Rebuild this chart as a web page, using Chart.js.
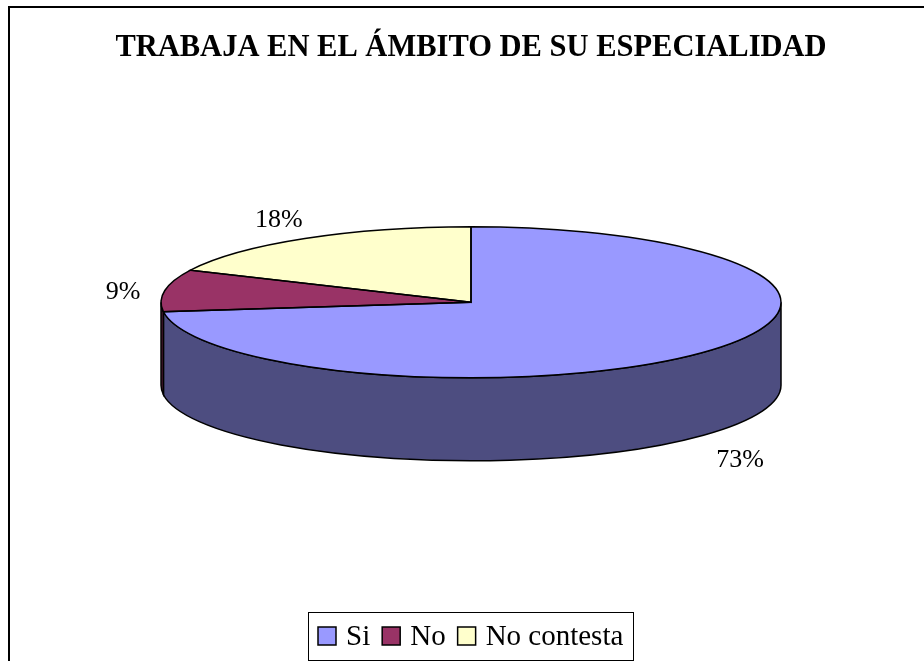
<!DOCTYPE html>
<html>
<head>
<meta charset="utf-8">
<title>Trabaja en el ámbito de su especialidad</title>
<script src="https://cdn.jsdelivr.net/npm/chart.js@4.4.0/dist/chart.umd.min.js"></script>
<style>
    html, body { margin: 0; padding: 0; background: #fff; }
    #wrap { width: 924px; height: 661px; }
</style>
</head>
<body>
<div id="wrap"><canvas id="chart" width="924" height="661"></canvas></div>
<script>
// Data
const categories = ['Si', 'No', 'No contesta'];
const values = [73, 9, 18];
const percentLabels = ['73%', '9%', '18%'];
const topColors = ['#9999FF', '#993366', '#FFFFCC'];
const sideColors = ['#4D4D80', '#4D1A33', '#808066'];

// 3D look: ellipse radii and wall height
const RX = 310, RY = 75.5, DEPTH = 83;
const LABEL_GAP_X = 25, LABEL_GAP_Y = 17, LABEL_SHIFT_Y = 6;

function frontParts(s, e) {
    // pieces of [s, e] that face the viewer (screen angle 0..PI)
    const parts = [];
    for (let k = -1; k <= 1; k++) {
        const lo = Math.max(s, 2 * Math.PI * k);
        const hi = Math.min(e, 2 * Math.PI * k + Math.PI);
        if (hi > lo) parts.push([lo, hi]);
    }
    return parts;
}

const pie3d = {
    id: 'pie3d',
    beforeDatasetsDraw(chart) {
        const ctx = chart.ctx;
        const arcs = chart.getDatasetMeta(0).data;
        const p0 = arcs[0].getProps(['x', 'y', 'outerRadius']);
        const cx = p0.x, cy = p0.y, R = p0.outerRadius;

        // side walls
        ctx.save();
        ctx.lineWidth = 1.5;
        ctx.strokeStyle = '#000';
        arcs.forEach((arc, i) => {
            const p = arc.getProps(['startAngle', 'endAngle']);
            frontParts(p.startAngle, p.endAngle).forEach(([a0, a1]) => {
                ctx.beginPath();
                ctx.ellipse(cx, cy, RX, RY, 0, a0, a1, false);
                ctx.ellipse(cx, cy + DEPTH, RX, RY, 0, a1, a0, true);
                ctx.closePath();
                ctx.fillStyle = sideColors[i];
                ctx.fill();
                ctx.stroke();
            });
        });
        ctx.restore();

        // squash the library's circle into the top ellipse
        ctx.save();
        ctx.translate(cx, cy);
        ctx.scale(RX / R, RY / R);
        ctx.translate(-cx, -cy);
    },
    afterDatasetsDraw(chart) {
        const ctx = chart.ctx;
        ctx.restore();
        const arcs = chart.getDatasetMeta(0).data;

        ctx.save();
        ctx.lineWidth = 1.5;
        ctx.strokeStyle = '#000';
        arcs.forEach(arc => {
            const p = arc.getProps(['x', 'y', 'startAngle', 'endAngle']);
            ctx.beginPath();
            ctx.moveTo(p.x, p.y);
            ctx.ellipse(p.x, p.y, RX, RY, 0, p.startAngle, p.endAngle, false);
            ctx.closePath();
            ctx.stroke();
        });

        // percent labels outside the slices
        ctx.font = '26px "Liberation Serif", "Times New Roman", serif';
        ctx.fillStyle = '#000';
        ctx.textAlign = 'center';
        ctx.textBaseline = 'middle';
        arcs.forEach((arc, i) => {
            const p = arc.getProps(['x', 'y', 'startAngle', 'endAngle']);
            const mid = (p.startAngle + p.endAngle) / 2;
            const c = Math.cos(mid), s = Math.sin(mid);
            const w = ctx.measureText(percentLabels[i]).width;
            const h = 24;
            const x = p.x + c * (RX + LABEL_GAP_X) + c * w / 2;
            const y = p.y + s * (RY + LABEL_GAP_Y) + s * h / 2 + (s > 0 ? DEPTH : 0) + LABEL_SHIFT_Y;
            ctx.fillText(percentLabels[i], x, y);
        });
        ctx.restore();
    }
};

const frameAndLegend = {
    id: 'frameAndLegend',
    beforeDraw(chart) {
        const ctx = chart.ctx;
        ctx.save();
        ctx.fillStyle = '#fff';
        ctx.fillRect(0, 0, chart.width, chart.height);
        ctx.strokeStyle = '#000';
        ctx.lineWidth = 2;
        ctx.beginPath();
        ctx.moveTo(9, chart.height);
        ctx.lineTo(9, 7);
        ctx.lineTo(chart.width, 7);
        ctx.stroke();
        ctx.restore();
    },
    afterDraw(chart) {
        const ctx = chart.ctx;
        ctx.save();
        ctx.font = '29px "Liberation Serif", "Times New Roman", serif';
        const marker = 18, gapText = 10, gapItem = 12, pad = 10;
        const widths = categories.map(c => ctx.measureText(c).width);
        let total = pad * 2 + gapItem * (categories.length - 1);
        widths.forEach(w => { total += marker + gapText + w; });
        const mid = (chart.chartArea.left + chart.chartArea.right) / 2;
        const top = chart.height - 49, h = 48;
        let x = Math.round(mid - total / 2);

        ctx.strokeStyle = '#000';
        ctx.lineWidth = 1;
        ctx.strokeRect(x + 0.5, top + 0.5, Math.round(total), h);

        x += pad;
        const yc = top + h / 2;
        ctx.textBaseline = 'middle';
        ctx.textAlign = 'left';
        categories.forEach((c, i) => {
            ctx.fillStyle = topColors[i];
            ctx.fillRect(x, yc - marker / 2, marker, marker);
            ctx.lineWidth = 1.5;
            ctx.strokeRect(x, yc - marker / 2, marker, marker);
            x += marker + gapText;
            ctx.fillStyle = '#000';
            ctx.fillText(c, x, yc + 1);
            x += widths[i] + gapItem;
        });
        ctx.restore();
    }
};

const chart = new Chart(document.getElementById('chart'), {
    type: 'pie',
    data: {
        labels: categories,
        datasets: [{
            data: values,
            backgroundColor: topColors,
            borderWidth: 0
        }]
    },
    options: {
        responsive: false,
        animation: false,
        events: [],
        layout: { padding: { left: 18, right: 0, top: 0, bottom: 133 } },
        plugins: {
            legend: { display: false },
            tooltip: { enabled: false },
            title: {
                display: true,
                text: 'TRABAJA EN EL ÁMBITO DE SU ESPECIALIDAD',
                color: '#000',
                font: { family: '"Liberation Serif", "Times New Roman", serif', size: 30.5, weight: 'bold' },
                padding: { top: 30, bottom: 10 }
            }
        }
    },
    plugins: [pie3d, frameAndLegend]
});
</script>
</body>
</html>
